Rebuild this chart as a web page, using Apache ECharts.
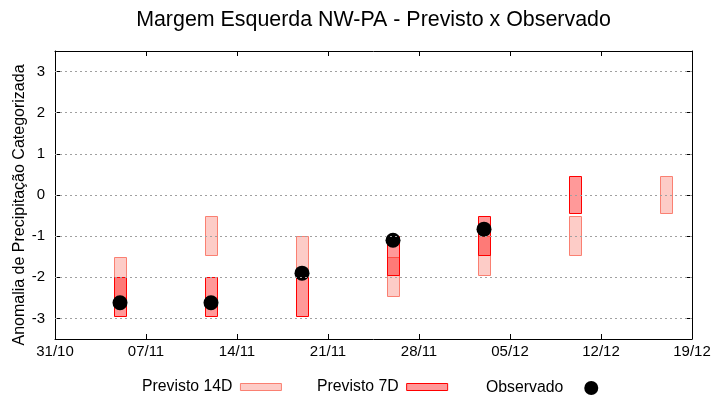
<!DOCTYPE html>
<html>
<head>
<meta charset="utf-8">
<script src="https://cdn.jsdelivr.net/npm/echarts@6/dist/echarts.min.js"></script>
<style>
html,body{margin:0;padding:0;background:#fff;}
#chart{width:720px;height:400px;}
</style>
</head>
<body>
<div id="chart"></div>
<script>
// ---- data ----
var titleText = 'Margem Esquerda NW-PA - Previsto x Observado';
var yAxisTitle = 'Anomalia de Precipitação Categorizada';
var startDate = "31/10";
var year = 2023;
var xTickLabels = ["31/10","07/11","14/11","21/11","28/11","05/12","12/12","19/12"];
var yTicks = [-3,-2,-1,0,1,2,3];
var dates = ["05/11","12/11","19/11","26/11","03/12","10/12","17/12"];
var p14Top = [-1.5,-0.5,-1.0,-1.5,-1.0,-0.5,0.45];
var p14Bot = [-2.5,-1.45,-1.95,-2.45,-1.95,-1.45,-0.45];
var p7Top = [-2.0,-2.0,-2.0,-1.0,-0.5,0.45,null];
var p7Bot = [-2.95,-2.95,-2.95,-1.95,-1.45,-0.45,null];
var observed = [-2.62,-2.62,-1.9,-1.1,-0.83,null,null];

function dayOffset(s){
  var p = s.split("/"), q = startDate.split("/");
  var t = Date.UTC(year, +p[1]-1, +p[0]);
  var t0 = Date.UTC(year, +q[1]-1, +q[0]);
  return Math.round((t - t0)/86400000);
}
var xs = dates.map(dayOffset);

function rangeData(top, bot){
  var out = [];
  for (var i=0;i<xs.length;i++){ if (top[i]!==null) out.push([xs[i], top[i], bot[i]]); }
  return out;
}
var obsData = [];
for (var i=0;i<xs.length;i++){ if (observed[i]!==null) obsData.push([xs[i], observed[i]]); }

function makeRender(fill, stroke){
  return function(params, api){
    var x = api.value(0), t = api.value(1), b = api.value(2);
    var p1 = api.coord([x, t]);
    var p2 = api.coord([x, b]);
    var w = api.size([0.95, 0])[0];
    return {
      type: 'rect',
      shape: {x: Math.round(p1[0] - w/2) + 0.5, y: Math.round(p1[1]) + 0.5, width: Math.round(w), height: Math.round(p2[1] - p1[1])},
      style: {fill: fill, stroke: stroke, lineWidth: 1}
    };
  };
}

var c14fill = 'rgba(250,128,114,0.4)', c14stroke = '#fa8072';
var c7fill = 'rgba(255,0,0,0.4)', c7stroke = '#ff0000';
var font = 'Liberation Sans, Arial, sans-serif';

var chart = echarts.init(document.getElementById('chart'));
var legendBase = {
  orient: 'horizontal', top: 379, padding: 0, align: 'right', itemWidth: 41, itemHeight: 7,
  textStyle: {fontFamily: font, fontSize: 15.8, color: '#000', padding: [0, 3, 0, 0]}, selectedMode: false
};
chart.setOption({
  animation: false,
  backgroundColor: '#fff',
  grid: {left: 55, right: 28, top: 51, bottom: 61},
  legend: [
    Object.assign({}, legendBase, {left: 142, data: [{name: 'Previsto 14D', icon: 'rect', itemStyle: {color: c14fill, borderColor: c14stroke, borderWidth: 1}}]}),
    Object.assign({}, legendBase, {left: 317, data: [{name: 'Previsto 7D', icon: 'rect', itemStyle: {color: c7fill, borderColor: c7stroke, borderWidth: 1}}]}),
    Object.assign({}, legendBase, {left: 486, top: 380, itemWidth: 46, itemHeight: 14,
      textStyle: {fontFamily: font, fontSize: 15.8, color: '#000'},
      data: [{name: 'Observado', icon: 'circle', itemStyle: {color: '#000', opacity: 1}}]})
  ],
  graphic: [{
    type: 'text', x: 373.5, y: 20.5,
    style: {text: titleText, fontFamily: font, fontSize: 21.4, fill: '#000', align: 'center', verticalAlign: 'middle'}
  },{
    type: 'text', x: 20, y: 205, rotation: Math.PI/2,
    style: {text: yAxisTitle, fontFamily: font, fontSize: 16, fill: '#000', align: 'center', verticalAlign: 'middle'}
  }],
  xAxis: [{
    type: 'value', min: 0, max: 49, interval: 7, position: 'bottom',
    axisLine: {show: true, onZero: false, lineStyle: {color: '#000', width: 1}},
    axisTick: {show: true, inside: true, length: 5, lineStyle: {color: '#000'}},
    axisLabel: {fontFamily: font, fontSize: 15, color: '#000', margin: 5,
      formatter: function(v){ return xTickLabels[Math.round(v/7)] || ''; }},
    splitLine: {show: false}
  },{
    type: 'value', min: 0, max: 49, interval: 7, position: 'top',
    axisLine: {show: true, onZero: false, lineStyle: {color: '#000', width: 1}},
    axisTick: {show: true, inside: true, length: 5, lineStyle: {color: '#000'}},
    axisLabel: {show: false}, splitLine: {show: false}
  }],
  yAxis: [{
    type: 'value', min: -3.5, max: 3.5, interval: 0.5, position: 'left',
    axisLine: {show: true, onZero: false, lineStyle: {color: '#000', width: 1}},
    axisTick: {show: true, inside: true, length: 5, customValues: yTicks, lineStyle: {color: '#000'}},
    axisLabel: {fontFamily: font, fontSize: 15, color: '#000', margin: 10, customValues: yTicks},
    splitLine: {show: false}
  },{
    type: 'value', min: -3.5, max: 3.5, interval: 0.5, position: 'right',
    axisLine: {show: true, onZero: false, lineStyle: {color: '#000', width: 1}},
    axisTick: {show: true, inside: true, length: 5, customValues: yTicks, lineStyle: {color: '#000'}},
    axisLabel: {show: false, customValues: yTicks},
    splitLine: {show: false}
  }],
  series: [{
    type: 'line', data: [], z: 1, silent: true,
    markLine: {
      silent: true, symbol: ['none','none'], label: {show: false},
      lineStyle: {color: '#a0a0a0', type: [2,3], width: 1},
      data: yTicks.map(function(v){ return {yAxis: v}; })
    }
  },{
    name: 'Previsto 14D', type: 'custom', z: 2,
    renderItem: makeRender(c14fill, c14stroke),
    encode: {x: 0, y: [1,2]},
    data: rangeData(p14Top, p14Bot)
  },{
    name: 'Previsto 7D', type: 'custom', z: 3,
    renderItem: makeRender(c7fill, c7stroke),
    encode: {x: 0, y: [1,2]},
    data: rangeData(p7Top, p7Bot)
  },{
    name: 'Observado', type: 'scatter', z: 4,
    symbol: 'circle', symbolSize: 15,
    itemStyle: {color: '#000', opacity: 1},
    data: obsData
  }]
});
</script>
</body>
</html>
